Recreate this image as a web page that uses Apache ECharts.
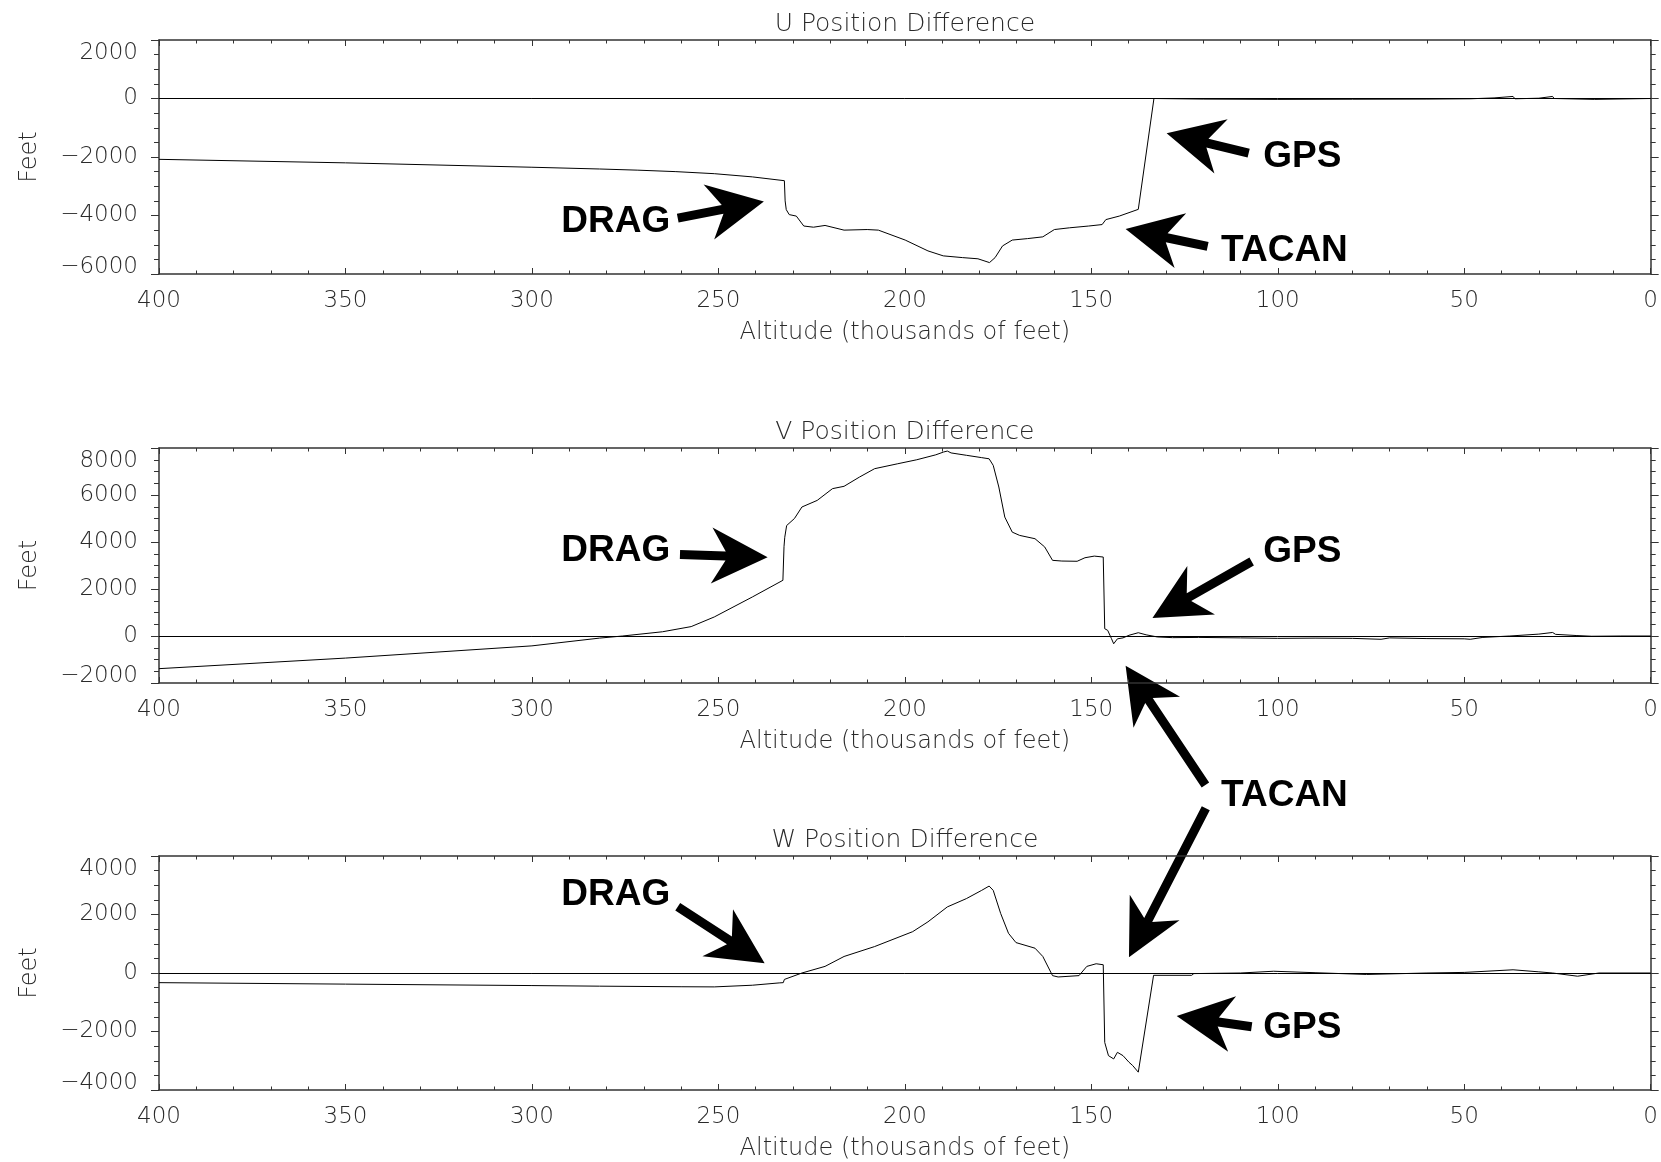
<!DOCTYPE html>
<html><head><meta charset="utf-8">
<script src="https://cdn.jsdelivr.net/npm/echarts@6/dist/echarts.min.js"></script>
<style>html,body{margin:0;padding:0;background:#fff}#c{width:1661px;height:1162px}</style>
</head><body><div id="c"></div>
<script>
// ---------- text ----------
const panelTitles = ['U Position Difference', 'V Position Difference', 'W Position Difference'];
const xAxisName = 'Altitude (thousands of feet)';
const yAxisName = 'Feet';

// ---------- axis ranges / ticks ----------
const altRange = [0, 400];
const altStep = 50;
const uRange = [-6000, 2000];
const vRange = [-2000, 8000];
const wRange = [-4000, 4000];
const feetStep = 2000;

// ---------- data (altitude in thousands of feet, difference in feet) ----------
const uAlt = [400,350,300,281.9,271.6,261.4,251.1,240.9,232.3,232.1,231.8,231.0,229.1,227.1,224.5,221.4,216.3,210.1,207.1,199.9,193.8,189.7,184.5,180.4,177.3,175.8,173.8,171.2,167.1,163.0,159.9,155.8,150.7,147.1,146.1,142.5,137.4,133.2,120,100,80,60,48.4,42,36.9,36.4,30,26.3,25.9,15,0];
const uFeet = [-2080,-2200,-2350,-2410,-2450,-2500,-2570,-2680,-2810,-3500,-3800,-3970,-4020,-4360,-4400,-4340,-4500,-4480,-4500,-4840,-5210,-5380,-5440,-5480,-5610,-5440,-5040,-4840,-4790,-4730,-4480,-4420,-4360,-4310,-4140,-4020,-3790,0,-20,-30,-25,-20,-10,20,70,-10,10,70,0,-30,0];

const vAlt = [400,350,300,281.9,275.7,265,257.3,251.1,240.9,232.7,232.4,232.2,231.7,229.6,227.6,223.5,219.4,216.3,212.2,208.1,201.9,196.8,191.7,189.6,188.6,187.6,183.5,179.4,177.4,176.3,174.8,173.2,171.2,169.2,165.1,162.5,160.4,157.9,153.8,151.7,149.2,146.8,146.4,145.6,144.6,144.0,143.0,141.5,139.9,137.4,135.3,132.3,128.2,121.2,110,100,90,80,72.3,70,60,50,48.4,45,37.8,30,26.3,25.5,20,15.8,8,0];
const vFeet = [-1390,-940,-420,-90,0,180,400,810,1660,2370,3800,4200,4700,5000,5490,5770,6270,6370,6760,7120,7330,7500,7710,7830,7870,7790,7690,7590,7540,7260,6340,5060,4420,4280,4140,3790,3220,3190,3180,3330,3400,3360,310,240,-110,-330,-120,-80,30,140,50,-40,-70,-60,-80,-100,-90,-100,-140,-80,-110,-120,-140,-60,0,80,150,70,20,-10,0,0];

const wAlt = [400,350,300,281.9,260,251.1,240.9,233.7,232.6,232.3,227.6,221.4,216.3,208.1,197.9,193.8,188.6,183.5,179.4,177.4,176.3,174.3,172.2,170.2,165.1,163.0,160.4,158.9,153.3,151.2,148.7,146.8,146.4,145.4,144.0,143.0,141.5,139.9,138.9,137.4,133.3,123.1,122.5,110,101.1,90,76.2,60,50,36.9,30,26.3,19.6,13.9,0];
const wFeet = [-330,-380,-430,-450,-470,-475,-418,-339,-330,-220,0,226,565,904,1413,1750,2260,2543,2825,2972,2825,2034,1356,1040,848,565,-90,-136,-90,226,316,282,-2373,-2825,-2938,-2712,-2825,-3050,-3164,-3390,-79,-79,-20,0,60,10,-50,0,20,110,40,0,-110,0,0];

// ---------- annotations (data coordinates of each panel) ----------
const noteText  = ['DRAG','GPS','TACAN','DRAG','GPS','TACAN','DRAG','GPS'];
const notePanel = [0,0,0,1,1,1,2,2];
const noteAt    = [[277.5,-4231],[93.4,-1984],[98.2,-5193],[277.5,3605],[93.4,3566],[98.2,-6784],[277.5,2667],[93.4,-1870]];
const arrowPanel = [0,0,0,1,1,1,2,2,2];
const arrowTail  = [[260.9,-4087],[107.8,-1868],[118.8,-5057],[260.3,3468],[107.0,3170],[119.4,-6337],[260.9,2267],[107.0,-1836],[119.3,5631]];
const arrowTip   = [[237.8,-3520],[129.8,-1185],[140.8,-4463],[236.8,3353],[133.6,770],[140.8,-1264],[237.6,331],[127.1,-1470],[139.9,537]];

// ---------- styling ----------
const FONT = '"DejaVu Sans", sans-serif';
const AX = '#333';
const TXT = '#2a2a2a';
const grids = [
  {left:159, right:8, top:40, height:234},
  {left:159, right:8, top:448, height:235},
  {left:159, right:8, top:856, height:234}
];
const ranges = [uRange, vRange, wRange];
const seriesXY = [[uAlt,uFeet],[vAlt,vFeet],[wAlt,wFeet]];
const labelFont = {fontSize:23, fontFamily:FONT, fontWeight:200, color:TXT};
const fmtFeet = v => (v < 0 ? '\u2212' + Math.abs(v) : String(v));

const xAxes = [], yAxes = [], series = [];
for (let i = 0; i < 3; i++) {
  const common = {type:'value', gridIndex:i, min:altRange[0], max:altRange[1], interval:altStep, inverse:true,
    axisLine:{show:true, onZero:false, lineStyle:{color:AX, width:1.5}},
    axisTick:{show:true, inside:true, length:6, lineStyle:{color:AX, width:1}},
    minorTick:{show:true, splitNumber:5, length:3.5, lineStyle:{color:AX, width:1}},
    splitLine:{show:false}, minorSplitLine:{show:false}};
  xAxes.push(Object.assign({}, common, {position:'bottom',
    axisLabel:Object.assign({show:true, margin:16, showMinLabel:true, showMaxLabel:true}, labelFont),
    name:xAxisName, nameLocation:'middle', nameGap:47,
    nameTextStyle:{fontSize:24, color:TXT, fontFamily:FONT, fontWeight:200}}));
  xAxes.push(Object.assign({}, common, {position:'top', axisLabel:{show:false},
    name:panelTitles[i], nameLocation:'middle', nameGap:3,
    nameTextStyle:{fontSize:25, color:TXT, fontFamily:FONT, fontWeight:200}}));
  const lo = ranges[i][0], hi = ranges[i][1];
  const ycommon = {type:'value', gridIndex:i, min:lo, max:hi, interval:feetStep,
    axisLine:{show:true, onZero:false, lineStyle:{color:AX, width:1.5}},
    axisTick:{show:true, inside:false, length:8, lineStyle:{color:AX, width:1}},
    minorTick:{show:true, splitNumber:4, length:5, lineStyle:{color:AX, width:1}},
    splitLine:{show:false}, minorSplitLine:{show:false}};
  yAxes.push(Object.assign({}, ycommon, {position:'left',
    axisLabel:Object.assign({show:true, margin:21, showMinLabel:true, showMaxLabel:true,
      verticalAlignMinLabel:'bottom', verticalAlignMaxLabel:'top',
      rich:{
        t:Object.assign({lineHeight:26}, labelFont),
        b:Object.assign({lineHeight:13}, labelFont)
      },
      formatter: v => (v === hi ? '{t|' + fmtFeet(v) + '}' : v === lo ? '{b|' + fmtFeet(v) + '}' : fmtFeet(v))
    }, labelFont),
    name:yAxisName, nameLocation:'middle', nameGap:117,
    nameTextStyle:{fontSize:24, color:TXT, fontFamily:FONT, fontWeight:200}}));
  yAxes.push(Object.assign({}, ycommon, {position:'right', axisLabel:{show:false}}));
  const [xs, ys] = seriesXY[i];
  series.push({type:'line', xAxisIndex:2*i, yAxisIndex:2*i, showSymbol:false, symbol:'none',
    data: xs.map((a, k) => [a, ys[k]]),
    lineStyle:{color:'#000', width:1}, animation:false, silent:true,
    markLine:{silent:true, symbol:['none','none'], label:{show:false},
      lineStyle:{color:'#000', width:1, type:'solid'}, data:[{yAxis:0}], animation:false}});
}

const chart = echarts.init(document.getElementById('c'), null, {renderer:'canvas'});
chart.setOption({backgroundColor:'#fff', animation:false, grid:grids, xAxis:xAxes, yAxis:yAxes, series:series});

function toPx(panel, pt) {
  return chart.convertToPixel({xAxisIndex:2*panel, yAxisIndex:2*panel}, pt);
}
function arrowPoly(S, T) {
  const dx = T[0]-S[0], dy = T[1]-S[1], len = Math.hypot(dx, dy);
  const ux = dx/len, uy = dy/len, nx = -uy, ny = ux;
  const L = 56, W = 28, N = 14, w = 4.5;
  const bx = T[0]-ux*L, by = T[1]-uy*L;
  const kx = T[0]-ux*(L-N), ky = T[1]-uy*(L-N);
  return [[S[0]+nx*w, S[1]+ny*w], [kx+nx*w, ky+ny*w], [bx+nx*W, by+ny*W], [T[0], T[1]],
          [bx-nx*W, by-ny*W], [kx-nx*w, ky-ny*w], [S[0]-nx*w, S[1]-ny*w]];
}
const graphics = [];
for (let k = 0; k < arrowTip.length; k++) {
  const S = toPx(arrowPanel[k], arrowTail[k]);
  const T = toPx(arrowPanel[k], arrowTip[k]);
  graphics.push({type:'polygon', silent:true, shape:{points:arrowPoly(S, T)}, style:{fill:'#000'}});
}
for (let k = 0; k < noteText.length; k++) {
  const P = toPx(notePanel[k], noteAt[k]);
  graphics.push({type:'text', silent:true, x:P[0], y:P[1],
    style:{text:noteText[k], font:'bold 37px "Liberation Sans", Arial, sans-serif', fill:'#000',
      align:'center', verticalAlign:'middle', textAlign:'center', textVerticalAlign:'middle'}});
}
chart.setOption({graphic:graphics});
</script>
</body></html>
